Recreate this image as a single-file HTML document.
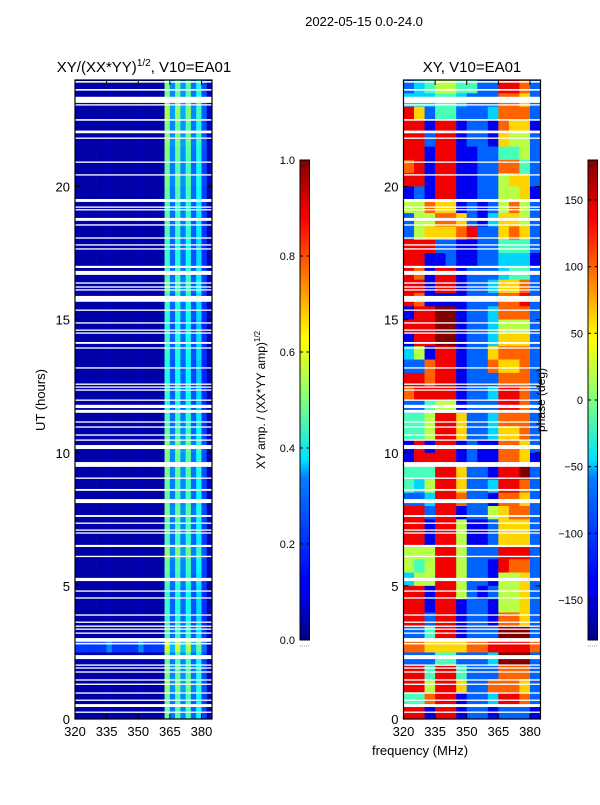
<!DOCTYPE html>
<html><head><meta charset="utf-8">
<style>
html,body{margin:0;padding:0;background:#fff;}
svg text{font-family:"Liberation Sans","DejaVu Sans",sans-serif;}
</style></head>
<body>
<svg id="fig" width="600" height="800" viewBox="0 0 600 800" xmlns="http://www.w3.org/2000/svg">
<defs>
<linearGradient id="jetGrad" x1="0" y1="1" x2="0" y2="0">
<stop offset="0" stop-color="#00007f"/><stop offset="0.11" stop-color="#0000ff"/><stop offset="0.125" stop-color="#0000ff"/>
<stop offset="0.34" stop-color="#0080ff"/><stop offset="0.375" stop-color="#00e0ff"/><stop offset="0.5" stop-color="#7fff7f"/>
<stop offset="0.625" stop-color="#ffff00"/><stop offset="0.66" stop-color="#ffe000"/><stop offset="0.75" stop-color="#ff8000"/>
<stop offset="0.875" stop-color="#ff0000"/><stop offset="0.91" stop-color="#e00000"/><stop offset="1" stop-color="#7f0000"/>
</linearGradient>
</defs>
<text x="364" y="26" font-size="13" text-anchor="middle">2022-05-15 0.0-24.0</text>
<text x="144" y="72" font-size="15" text-anchor="middle">XY/(XX*YY)<tspan font-size="10" dy="-6">1/2</tspan><tspan dy="6">, V10=EA01</tspan></text>
<text x="472" y="72" font-size="15" text-anchor="middle">XY, V10=EA01</text>
<g id="leftCells"></g>
<g id="rightCells"></g>
<g id="blanks"></g>
<g id="axes"></g>
<text transform="translate(45,400) rotate(-90)" font-size="13" text-anchor="middle">UT (hours)</text>
<text x="420" y="755" font-size="13" text-anchor="middle">frequency (MHz)</text>
<text transform="translate(265,400) rotate(-90)" font-size="12" text-anchor="middle">XY amp. / (XX*YY amp)<tspan font-size="8" dy="-5">1/2</tspan></text>
<text transform="translate(545,400) rotate(-90)" font-size="12" text-anchor="middle">phase (deg)</text>
</svg>
<script>
const freqCols = [320,325,330,335,340,345,350,355,360,365,370,375,380];
const phaseRows = [
"2345544228872","3334432227762","8624422237772","8818812217661","8828812216552","8818811224452",
"7818811227742","8818811225662","1218811225561","5576612125752","2557762136652","2566678226762",
"8882211224442","8811211223331","8718812223442","8818812236672","8711112227782","1889912237772",
"8889912235552","1889912236662","3518812267772","2278812276672","8878812227772","7888812238872",
"2245512228872","4458862237772","4458862236672","1818812117762","1888812117761","4448862218892",
"4358862238872","2238872217762","8828812256772","8818851126662","8818851126662","5558852228882",
"5458852218772","3558852215562","8818852125562","8818812215562","8828812217762","2248812229992",
"7766667788887","2224422239992","8848842227772","8858862277762","4478812238872","8818812212221"];
const ampProfile = [0.02,0.02,0.02,0.02,0.02,0.02,0.03,0.02,0.02,0.02,0.02,0.02,0.03,0.02,0.02,0.02,0.02,0.48,0.24,0.46,0.25,0.44,0.22,0.38,0.18,0.04];
const ampGain = [1.0,1.0,1.1,1.0,1.05,1.0,0.95,1.0,0.95,0.9,0.9,0.9,0.85,0.85,0.9,0.95,0.85,0.85,0.8,0.85,0.85,0.8,0.8,0.85,
0.8,0.9,0.95,1.05,1.0,1.0,0.95,0.95,1.0,0.95,0.9,1.05,0.95,0.9,0.85,0.85,0.85,0.9,1.2,0.95,1.0,1.05,0.95,0.95];
const ampBase = [1,1,1,1,1,1,1,1,1,1,1,1,1,1,1,1,1,1,1,1,1,1,1,1,1,1,1,1,1,1,1,1,1,1,1,1,1,1,1,1,1,1,8,1,1,1,1,1];
const blankHours = [[23.9,23.96],[23.6,23.66],[23.14,23.37],[23.04,23.09],[22.47,22.53],[22.0,22.1],[21.79,21.84],[20.89,20.94],[20.41,20.46],
[19.42,19.53],[19.2,19.25],[19.1,19.15],[18.71,18.82],[18.53,18.58],[18.04,18.09],[17.78,17.83],[17.63,17.68],[16.94,17.02],[16.68,16.83],
[16.35,16.4],[16.2,16.25],[16.09,16.14],[15.67,15.89],[15.33,15.38],[14.85,14.9],[14.58,14.63],[14.47,14.52],[14.09,14.16],[13.91,13.96],
[13.16,13.21],[12.55,12.6],[12.44,12.49],[12.33,12.38],[11.95,12.0],[11.68,11.8],[11.5,11.61],[11.13,11.18],[10.94,10.99],[10.64,10.69],
[10.45,10.5],[10.14,10.29],[9.47,9.65],[9.02,9.07],[8.57,8.64],[8.11,8.26],[7.59,7.66],[7.33,7.38],[7.07,7.12],[6.96,7.01],[6.46,6.54],
[6.08,6.13],[5.18,5.3],[4.78,4.83],[4.52,4.57],[3.88,3.93],[3.61,3.66],[3.46,3.51],[3.35,3.4],[3.2,3.25],[2.9,3.04],[2.8,2.86],[2.25,2.4],
[2.0,2.05],[1.89,1.94],[1.74,1.79],[1.44,1.49],[1.28,1.33],[0.95,1.0],[0.68,0.73],[0.45,0.56],[0.23,0.28]];
const yTicks = [0,5,10,15,20];
const xTicks = [320,335,350,365,380];
const ampTicks = [0.0,0.2,0.4,0.6,0.8,1.0];
const phaseTicks = [-150,-100,-50,0,50,100,150];

const NS="http://www.w3.org/2000/svg";
const L={x0:75,x1:212}, R={x0:403.5,x1:540.5}, Y0=719, Y1=80;
const fx=(p,f)=>p.x0+(f-320)*(p.x1-p.x0)/65;
const hy=h=>Y0-h*(Y0-Y1)/24;
function cl(v){return Math.max(0,Math.min(1,v));}
function jet(v){v=cl(v);const r=cl(1.5-Math.abs(4*v-3)),g=cl(1.5-Math.abs(4*v-2)),b=cl(1.5-Math.abs(4*v-1));
return `rgb(${Math.round(r*255)},${Math.round(g*255)},${Math.round(b*255)})`;}
function mk(tag,attrs,parent){const e=document.createElementNS(NS,tag);for(const k in attrs)e.setAttribute(k,attrs[k]);parent.appendChild(e);return e;}

const lc=document.getElementById('leftCells');
for(let r=0;r<ampGain.length;r++){
  const hTop=24-r*0.5, hBot=hTop-0.5;
  for(let c=0;c<ampProfile.length;c++){
    const f0=320+c*2.5;
    const v=c<17?ampProfile[c]*ampBase[r]:ampProfile[c]*ampGain[r];
    const e=mk('rect',{x:fx(L,f0),y:hy(hTop),width:fx(L,f0+2.5)-fx(L,f0)+0.3,height:hy(hBot)-hy(hTop)+0.3,fill:jet(v+0.02)},lc);
    
    
  }
}
const rc=document.getElementById('rightCells');
for(let r=0;r<phaseRows.length;r++){
  const hTop=24-r*0.5, hBot=hTop-0.5;
  for(let c=0;c<freqCols.length;c++){
    const f0=freqCols[c];
    const v=parseInt(phaseRows[r][c])/9;
    const e=mk('rect',{x:fx(R,f0),y:hy(hTop),width:fx(R,f0+5)-fx(R,f0)+0.3,height:hy(hBot)-hy(hTop)+0.3,fill:jet(v)},rc);
    
    
  }
}
const bl=document.getElementById('blanks');
for(const p of [L,R]){
  for(const b of blankHours){
    const e=mk('rect',{x:p.x0,y:hy(b[1]),width:p.x1-p.x0,height:Math.max(1.3,hy(b[0])-hy(b[1])),fill:'#fff'},bl);
    
    
  }
}
const ax=document.getElementById('axes');
for(const p of [L,R]){
  const fr=mk('rect',{x:p.x0,y:Y1,width:p.x1-p.x0,height:Y0-Y1,fill:'none',stroke:'#000','stroke-width':1.2},ax);
  
  
  for(const t of yTicks){
    const y=hy(t);
    mk('line',{x1:p.x0,x2:p.x0+5,y1:y,y2:y,stroke:'#000'},ax);
    mk('line',{x1:p.x1,x2:p.x1-5,y1:y,y2:y,stroke:'#000'},ax);
    const tx=mk('text',{x:p.x0-5,y:y+5,'font-size':13,'text-anchor':'end'},ax);
    tx.textContent=t;
    
    
  }
  for(const t of xTicks){
    const x=fx(p,t);
    mk('line',{x1:x,x2:x,y1:Y0,y2:Y0-5,stroke:'#000'},ax);
    mk('line',{x1:x,x2:x,y1:Y1,y2:Y1+5,stroke:'#000'},ax);
    const tx=mk('text',{x:x,y:Y0+17,'font-size':13,'text-anchor':'middle'},ax);
    tx.textContent=t;
    
    
  }
}
function colorbar(x,lo,hi,ticks,fmt,name){
  const y0=640,y1=160,w=9.5;
  const cb=mk('rect',{x:x,y:y1,width:w,height:y0-y1,fill:'url(#jetGrad)',stroke:'#000','stroke-width':1},ax);
  
  
  for(const t of ticks){
    const y=y0-(t-lo)/(hi-lo)*(y0-y1);
    mk('line',{x1:x,x2:x+3,y1:y,y2:y,stroke:'#000'},ax);
    mk('line',{x1:x+w,x2:x+w-3,y1:y,y2:y,stroke:'#000'},ax);
    const tx=mk('text',{x:x-5,y:y+4,'font-size':11,'text-anchor':'end'},ax);
    tx.textContent=fmt(t);
    
    
  }
  mk('line',{x1:x,x2:x+w,y1:646,y2:646,stroke:'#999','stroke-dasharray':'1,1'},ax);
}
colorbar(300,0,1,ampTicks,t=>t.toFixed(1),'amp-colorbar');
colorbar(588,-180,180,phaseTicks,t=>(t<0?'\u2212'+(-t):''+t),'phase-colorbar');
</script>
</body></html>
